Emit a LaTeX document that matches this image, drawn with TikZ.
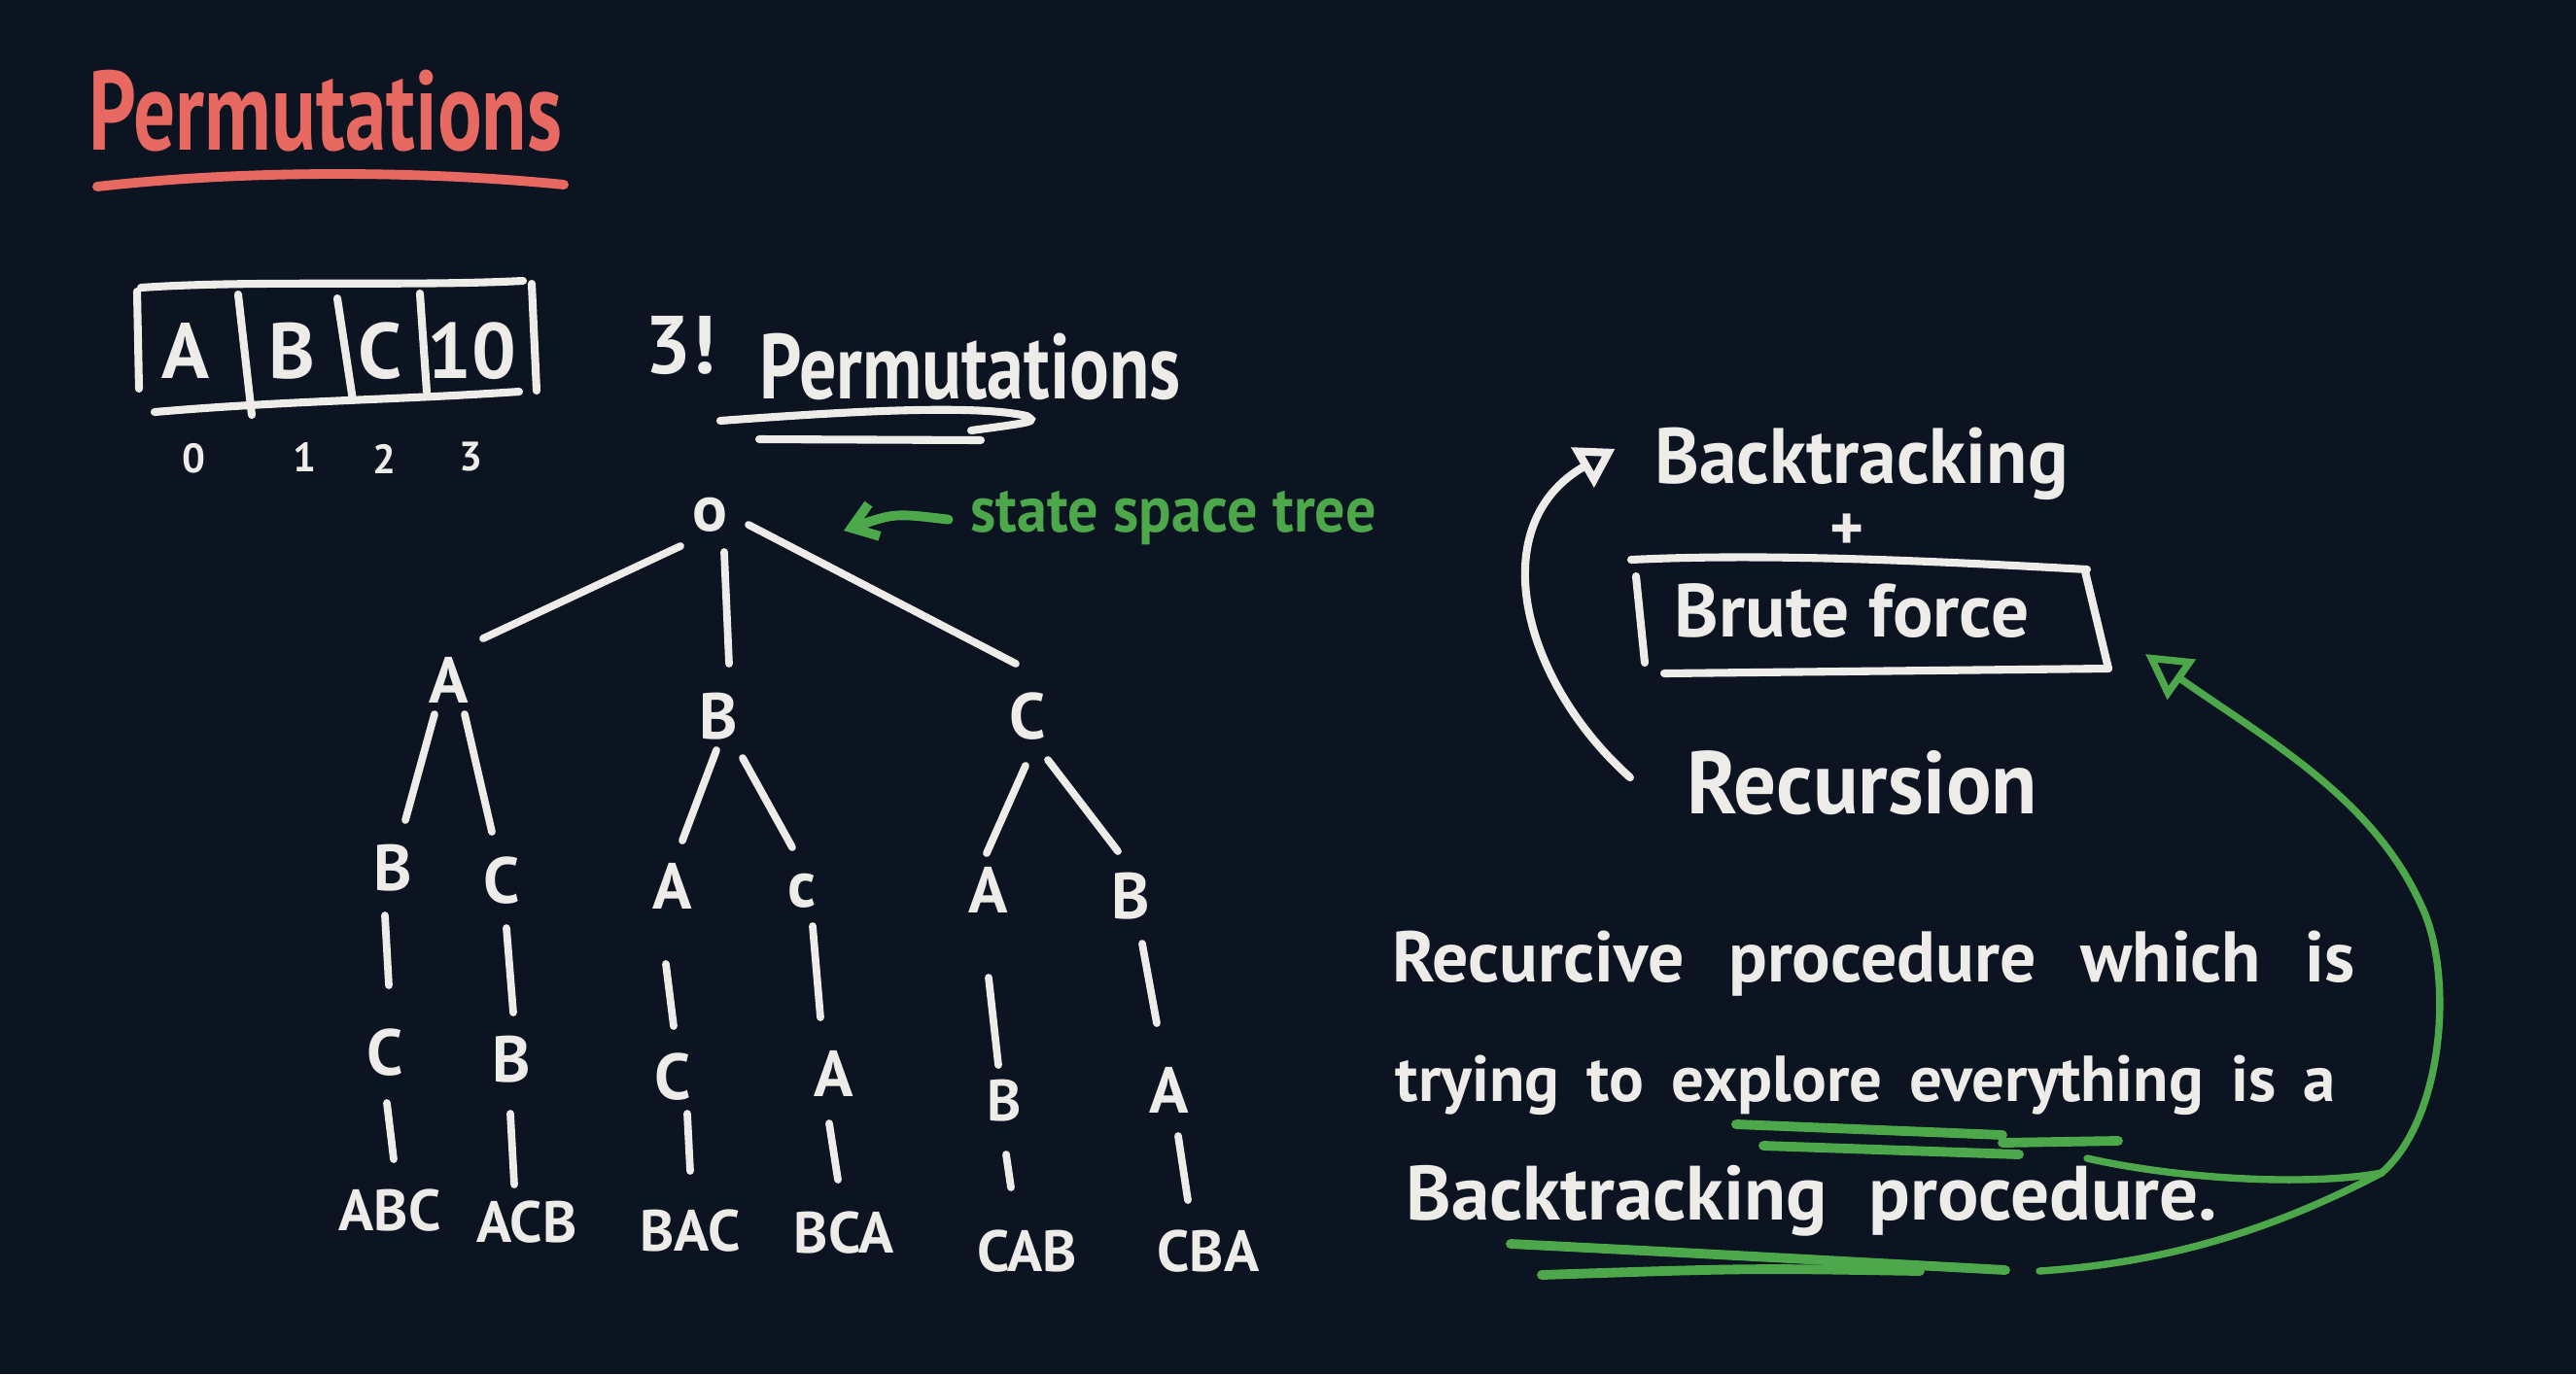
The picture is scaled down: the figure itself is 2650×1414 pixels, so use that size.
\documentclass[tikz,border=0pt]{standalone}
\usepackage{fontspec}
\setmainfont{PT Sans}
\usetikzlibrary{arrows.meta}
\definecolor{bg}{RGB}{11,20,32}
\definecolor{chalk}{RGB}{237,236,233}
\definecolor{penred}{RGB}{232,104,98}
\definecolor{pengreen}{RGB}{76,168,74}
\newcommand\hsq[2]{\scalebox{#1}[1]{#2}}
\newcommand\tedge[6]{\draw[treeedge] ([shift={(#2,#3)}]#1.center) -- ([shift={(#5,#6)}]#4.center);}
\begin{document}
\begin{tikzpicture}[x=0.01cm,y=-0.01cm,
  hand/.style={font={\fontsize{#1}{#1}\selectfont\bfseries}, text=chalk, inner sep=0pt},
  wsp/.style={execute at begin node={\spaceskip=#1\relax}},
  treeedge/.style={draw=chalk, line width=2.2pt, line cap=round},
  chalkline/.style={draw=chalk, line width=2.3pt, line cap=round},
  redline/.style={draw=penred, line width=2.8pt, line cap=round},
  gline/.style={draw=pengreen, line width=2.8pt, line cap=round},
  gcurve/.style={draw=pengreen, line width=2.1pt, line cap=round}]
\fill[bg] (0,0) rectangle (2650,1414);
\useasboundingbox (0,0) rectangle (2650,1414);

% title
\node[hand=33, text=penred, anchor=base] (title) at (335,154) {\hsq{0.735}{Permutations}};
\draw[redline] (100,192) .. controls (260,174) and (440,176) .. (580,190);

% array
\node[hand=23] (ca) at (191,361) {A};
\node[hand=23] (cb) at (300,361) {B};
\node[hand=23] (cc) at (391,361) {C};
\node[hand=23] (c10) at (485,361) {10};
\draw[chalkline] (145,296) .. controls (260,288) and (420,295) .. (538,289);
\draw[chalkline] (159,424) .. controls (300,412) and (400,412) .. (534,403);
\draw[chalkline] (141,300) -- (143,400);
\draw[chalkline] (245,303) -- (259,427);
\draw[chalkline] (347,307) -- (363,412);
\draw[chalkline] (432,302) -- (439,403);
\draw[chalkline] (547,292) -- (552,402);
\node[hand=12] (d0) at (199,472) {0};
\node[hand=12] (d1) at (313,470) {1};
\node[hand=12] (d2) at (395,472) {2};
\node[hand=12] (d3) at (484,470) {3};

% 3! Permutations
\node[hand=24] (fact) at (700,356) {3!};
\node[hand=27, anchor=base] (perm2) at (998,410) {\hsq{0.8}{Permutations}};
\draw[chalkline] (741,433) .. controls (850,425) and (1000,415) .. (1056,428) .. controls (1066,434) .. (999,443);
\draw[chalkline] (781,452) -- (1009,453);

% tree
\node[hand=19] (root) at (730,530) {o};
\node[hand=19] (a1) at (462,700) {A};
\node[hand=19] (b1) at (739,737) {B};
\node[hand=19] (c1) at (1057,737) {C};
\node[hand=19] (b2a) at (404,893) {B};
\node[hand=19] (c2a) at (516,906) {C};
\node[hand=19] (a2b) at (692,912) {A};
\node[hand=19] (c2b) at (825,917) {c};
\node[hand=19] (a2c) at (1017,916) {A};
\node[hand=19] (b2c) at (1163,922) {B};
\node[hand=19] (c3a) at (396,1083) {C};
\node[hand=19] (b3a) at (526,1090) {B};
\node[hand=19] (c3b) at (692,1108) {C};
\node[hand=19] (a3b) at (858,1105) {A};
\node[hand=17] (b3c) at (1033,1133) {B};
\node[hand=19] (a3c) at (1203,1122) {A};
\node[hand=17] (abc) at (401,1246) {ABC};
\node[hand=17] (acb) at (542,1258) {ACB};
\node[hand=17] (bac) at (710,1267) {BAC};
\node[hand=17] (bca) at (868,1269) {BCA};
\node[hand=17] (cab) at (1057,1288) {CAB};
\node[hand=17] (cba) at (1243,1288) {CBA};

\tedge{root}{-30}{32}{a1}{35}{-43}
\tedge{root}{15}{38}{b1}{11}{-54}
\tedge{root}{40}{10}{c1}{-12}{-54}
\tedge{a1}{-15}{35}{b2a}{13}{-49}
\tedge{a1}{16}{35}{c2a}{-10}{-50}
\tedge{b1}{-2}{35}{a2b}{10}{-47}
\tedge{b1}{25}{43}{c2b}{-10}{-45}
\tedge{c1}{-2}{51}{a2c}{-2}{-38}
\tedge{c1}{21}{45}{b2c}{-13}{-46}
\tedge{b2a}{-8}{49}{c3a}{4}{-69}
\tedge{c2a}{5}{49}{b3a}{2}{-48}
\tedge{a2b}{-7}{80}{c3b}{1}{-52}
\tedge{c2b}{11}{36}{a3b}{-14}{-58}
\tedge{a2c}{0}{90}{b3c}{-6}{-37}
\tedge{b2c}{12}{49}{a3c}{-13}{-69}
\tedge{c3a}{2}{52}{abc}{4}{-53}
\tedge{b3a}{-1}{56}{acb}{-13}{-39}
\tedge{c3b}{15}{38}{bac}{0}{-62}
\tedge{a3b}{-5}{51}{bca}{-6}{-55}
\tedge{b3c}{2}{55}{cab}{-17}{-66}
\tedge{a3c}{9}{47}{cba}{-21}{-53}

% state space tree
\node[hand=19, text=pengreen, anchor=base] (sst) at (1207,547) {\hsq{0.93}{state space tree}};
\coordinate (ssttip) at (868,546);
\draw[gline, -{Straight Barb[length=7pt,width=10pt]}] ([shift={(-22,2)}]sst.west) .. controls (920,528) .. (ssttip);

% right side
\node[hand=23, anchor=base] (bt) at (1915,497) {\hsq{0.96}{Backtracking}};
\node[hand=19] (plus) at (1900,548) {+};
\node[hand=22, anchor=base] (bf) at (1905,655) {Brute force};
\node[hand=26, anchor=base] (rec) at (1916,837) {\hsq{0.95}{Recursion}};
\draw[chalkline] (1678,576) .. controls (1800,570) and (1950,575) .. (2147,586);
\draw[chalkline] (2145,588) -- (2169,688);
\draw[chalkline] (1712,693) -- (2169,688);
\draw[chalkline] (1683,593) -- (1692,682);
\draw[chalkline, -{Triangle[open,length=11pt,width=13pt]}] ([shift={(-58,-5)}]rec.west) .. controls (1565,700) and (1525,540) .. ([shift={(-40,-15)}]bt.west);

% paragraph
\node[hand=21, wsp=13pt, anchor=base west] (l1) at (1432,1010) {Recurcive procedure which is};
\node[hand=19, wsp=8pt, anchor=base west] (l2) at (1435,1133) {trying to explore everything is a};
\node[hand=22.5, wsp=12pt, anchor=base west] (l3) at (1446,1255) {Backtracking procedure.};

\draw[gline] (1786,1157) -- (2060,1168);
\draw[gline] (2060,1176) -- (2179,1174);
\draw[gline] (1814,1179) -- (2077,1188);
\draw[gline] (1554,1280) .. controls (1750,1290) .. (2063,1307);
\draw[gline] (1586,1312) .. controls (1800,1305) .. (1975,1308);

\coordinate (gA) at (2147,1192);
\coordinate (gB) at (2098,1308);
\coordinate (gJ) at (2450,1207);
\coordinate (gtip) at (2207,673);
\draw[gcurve] (gA) .. controls (2250,1215) and (2380,1220) .. (gJ);
\draw[gcurve] (gB) .. controls (2220,1300) and (2330,1270) .. (gJ);
\draw[gcurve, -{Triangle[open,length=13pt,width=14pt]}] (gJ) .. controls (2515,1150) and (2525,1000) .. (2490,930) .. controls (2440,820) and (2330,760) .. (gtip);
\end{tikzpicture}
\end{document}
